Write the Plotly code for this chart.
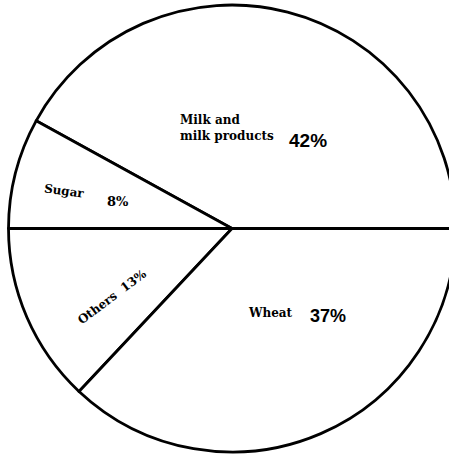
import plotly.graph_objects as go

labels = ["Milk and milk products", "Sugar", "Others", "Wheat"]
values = [42, 8, 13, 37]
name_text = ["Milk and<br>milk products", "Sugar", "Others", "Wheat"]

# figure is slightly wider than the window so that the circle is cut at the right edge
W, H = 458, 455

def px(x):
    return x / W

def py(y):
    return 1 - y / H

# counterclockwise pies in plotly place the first slice clockwise of `rotation`;
# start the first slice at 3 o'clock going counterclockwise
start_rot = 90 - 360 * values[0] / sum(values)

cx, cy, r = 232, 228.5, 223.5

fig = go.Figure(go.Pie(
    labels=labels,
    values=values,
    sort=False,
    direction="counterclockwise",
    rotation=start_rot,
    textinfo="none",
    hoverinfo="label+percent",
    marker=dict(colors=["white"] * 4, line=dict(color="black", width=2.8)),
    domain=dict(x=[px(cx - r), px(cx + r)], y=[py(cy + r), py(cy - r)]),
    showlegend=False,
))

serif = "DejaVu Serif"
sans = "Liberation Sans"
pct = [f"{v}%" for v in values]
anns = [
    dict(text=f"<b>{name_text[0]}</b>", x=px(178), y=py(128), xanchor="left", yanchor="middle",
         align="left", font=dict(size=12, family=serif)),
    dict(text=f"<b>{pct[0]}</b>", x=px(308), y=py(140), xanchor="center", yanchor="middle",
         font=dict(size=19, family=sans)),
    dict(text=f"<b>{name_text[1]}</b>", x=px(64), y=py(191), xanchor="center", yanchor="middle",
         textangle=8, font=dict(size=12, family=serif)),
    dict(text=f"<b>{pct[1]}</b>", x=px(118), y=py(201), xanchor="center", yanchor="middle",
         font=dict(size=13, family=serif)),
    dict(text=f"<b>{name_text[2]}&nbsp;&nbsp;{pct[2]}</b>", x=px(112), y=py(297), xanchor="center",
         yanchor="middle", textangle=-37, font=dict(size=12, family=serif)),
    dict(text=f"<b>{name_text[3]}</b>", x=px(270), y=py(313), xanchor="center", yanchor="middle",
         font=dict(size=12, family=serif)),
    dict(text=f"<b>{pct[3]}</b>", x=px(328), y=py(316), xanchor="center", yanchor="middle",
         font=dict(size=18, family=sans)),
]
for a in anns:
    a.update(xref="paper", yref="paper", showarrow=False)
    a["font"]["color"] = "black"

fig.update_layout(
    width=W,
    height=H,
    autosize=False,
    annotations=anns,
    margin=dict(l=0, r=0, t=0, b=0),
    paper_bgcolor="white",
    plot_bgcolor="white",
)

fig.write_html(
    "out.html",
    config={"displayModeBar": False},
    post_script=(
        "document.body.style.margin='0';"
        "document.body.style.overflow='hidden';"
        "document.documentElement.style.overflow='hidden';"
    ),
)
